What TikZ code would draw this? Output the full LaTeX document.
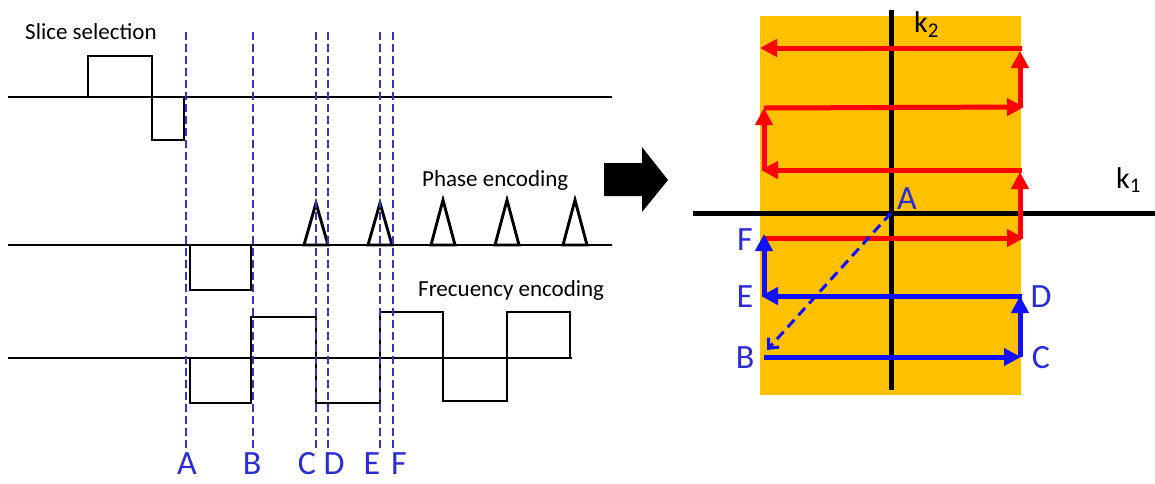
\documentclass[tikz,border=0pt]{standalone}
\usepackage{fontspec}
\setmainfont{Carlito}
\usetikzlibrary{arrows.meta}
\definecolor{kfill}{HTML}{FFC000}
\definecolor{markblue}{HTML}{3333CC}
\definecolor{lblblue}{HTML}{2B2BD8}
\definecolor{trajblue}{HTML}{1010FF}
\definecolor{trajred}{HTML}{FF0000}

\begin{document}
\begin{tikzpicture}[x=1pt,y=-1pt,line cap=butt,line join=miter,
  grad/.style={line width=2.9pt},
  marker/.style={draw=markblue,line width=1.1pt,dash pattern=on 8pt off 4pt},
  traj/.style={line width=5pt,-{Triangle[length=17pt,width=17pt]}},
  caption/.style={font=\fontsize{23}{28}\selectfont,inner sep=0pt,anchor=west},
  lbl/.style={text=lblblue,font=\fontsize{34}{40}\selectfont,inner sep=0pt},
  klbl/.style={font=\fontsize{30}{36}\selectfont,inner sep=0pt}]
\useasboundingbox (0,0) rectangle (1155,483);

% slice selection
\node[caption] (slice) at (25,32) {Slice selection};
\draw[grad] (8,97) -- (612,97);
\draw[grad] (88,97) -- (88,56) -- (152,56) -- (152,140) -- (184,140) -- (184,97);

% phase encoding
\node[caption] (phase) at (422,180) {Phase encoding};
\draw[grad] (8,245) -- (612,245);
\draw[grad] (190,245) -- (190,290) -- (251,290) -- (251,245);
\foreach \x/\h in {316/203,380/203,443/200,507/200,575/200}
  \draw[grad] (\x-12,245) -- (\x,\h) -- (\x+12,245) -- cycle;

% frequency encoding
\node[caption] (freq) at (418,290) {Frecuency encoding};
\draw[grad] (8,358) -- (572,358);
\draw[grad] (190,358) -- (190,403) -- (251,403) -- (251,317) -- (316,317)
  -- (316,403) -- (380,403) -- (380,312) -- (443,312) -- (443,401)
  -- (507,401) -- (507,312) -- (570,312) -- (570,358);

% time markers
\foreach \x/\lx/\t in {186/187/A,253/252/B,316/307/C,328/334/D,380/372/E,393/399/F}{
  \draw[marker] (\x,32) -- (\x,452);
  \node[lbl,anchor=base] (t\t) at (\lx,474) {\t};
}

% block arrow
\fill (604,163) -- (642,163) -- (642,147) -- (668,180) -- (642,212)
  -- (642,196) -- (604,196) -- cycle;

% k-space
\fill[kfill] (760,16) rectangle (1021,395);
\draw[line width=5pt] (891,10) -- (891,390);
\draw[line width=5pt] (693,213) -- (1155,213);
\node[klbl,anchor=base west] (k2) at (914,32) {k\textsubscript{2}};
\node[klbl,anchor=base west] (k1) at (1116,188) {k\textsubscript{1}};

\coordinate (o) at (891,213);
\coordinate (bhead) at (767,350);
\coordinate (b) at (764,357);
\coordinate (c) at (1021,357);
\coordinate (d) at (1020,296);
\coordinate (e) at (761,296);
\coordinate (f) at (764,234);
\coordinate (r1) at (764,238);
\coordinate (r2) at (1024,238);
\coordinate (r3) at (1020,172);
\coordinate (r4) at (761,170);
\coordinate (r5) at (764,108);
\coordinate (r6) at (1024,107);
\coordinate (r7) at (1020,51);
\coordinate (r8) at (760,48);

\draw[traj,trajred] (r1) -- (r2);
\draw[traj,trajred] (1020,238) -- (r3);
\draw[traj,trajred] (1022,170) -- (r4);
\draw[traj,trajred] (764,170) -- (r5);
\draw[traj,trajred] (r5) -- (r6);
\draw[traj,trajred] (1020,107) -- (r7);
\draw[traj,trajred] (1022,48) -- (r8);

\draw[trajblue,line width=3pt,dash pattern=on 10pt off 6pt,
  -{Straight Barb[length=8pt,width=14pt]}] (o) -- (bhead);
\draw[traj,trajblue] (b) -- (c);
\draw[traj,trajblue] (1020,357) -- (d);
\draw[traj,trajblue] (1022,296) -- (e);
\draw[traj,trajblue] (764,296) -- (f);

\node[lbl] (lA) at (907,199) {A};
\node[lbl] (lF) at (745,240) {F};
\node[lbl] (lE) at (745,297) {E};
\node[lbl] (lB) at (745,358) {B};
\node[lbl] (lD) at (1041,297) {D};
\node[lbl] (lC) at (1041,358) {C};
\end{tikzpicture}
\end{document}
